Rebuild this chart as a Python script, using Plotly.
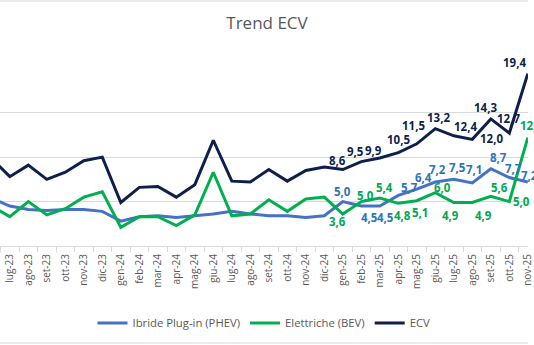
import plotly.graph_objects as go

months = ["giu-23", "lug-23", "ago-23", "set-23", "ott-23", "nov-23", "dic-23",
          "gen-24", "feb-24", "mar-24", "apr-24", "mag-24", "giu-24", "lug-24",
          "ago-24", "set-24", "ott-24", "nov-24", "dic-24",
          "gen-25", "feb-25", "mar-25", "apr-25", "mag-25", "giu-25", "lug-25",
          "ago-25", "set-25", "ott-25", "nov-25"]

phev = [5.4, 4.5, 4.1, 4.0, 4.1, 4.1, 3.9, 2.8, 3.3, 3.4, 3.2, 3.4, 3.6, 3.9,
        3.6, 3.4, 3.4, 3.2, 3.4,
        5.0, 4.5, 4.5, 5.7, 6.4, 7.2, 7.5, 7.1, 8.7, 7.7, 7.2]
bev = [4.5, 3.3, 5.0, 3.5, 4.2, 5.5, 6.1, 2.1, 3.3, 3.3, 2.3, 3.5, 8.3, 3.4,
       3.6, 5.2, 3.9, 5.3, 5.5,
       3.6, 5.0, 5.4, 4.8, 5.1, 6.0, 4.9, 4.9, 5.6, 5.0, 12.2]
ecv = [9.9, 7.8, 9.1, 7.5, 8.3, 9.6, 10.0, 4.9, 6.6, 6.7, 5.5, 6.9, 11.9, 7.3,
       7.2, 8.6, 7.3, 8.5, 8.9,
       8.6, 9.5, 9.9, 10.5, 11.5, 13.2, 12.4, 12.0, 14.3, 12.7, 19.4]

first_label = months.index("gen-25")

# label offsets in pixels (dx right, dy up) for the labelled months gen-25 .. nov-25
off_ecv = [(-5, 9), (-6, 10), (-6, 8), (0, 13), (-3, 18), (3, 11), (12, 9), (19, 1),
           (-5, 11), (-1, 15), (-13, 11)]
off_phev = [(0, 10), (8, -11), (6, -11), (11, 8), (7, 12), (2, 13), (4, 12), (2, 13),
            (8, 11), (4, 9), (2, 7)]
off_bev = [(-5, -7), (4, 6), (5, 11), (4, -12), (3, -12), (7, 5), (-3, -13), (11, -13),
           (9, 9), (12, 0), (4, 12)]

FONT = "Open Sans"

fig = go.Figure()
series = [
    ("Ibride Plug-in (PHEV)", phev, "#4472C4", "#2E75B6", off_phev),
    ("Elettriche (BEV)", bev, "#00B050", "#00A84F", off_bev),
    ("ECV", ecv, "#0E1F4E", "#0E1F4E", off_ecv),
]
annotations = []
for name, vals, lc, tc, offs in series:
    fig.add_trace(go.Scatter(
        x=months, y=vals, name=name, mode="lines",
        line=dict(color=lc, width=3),
    ))
    for k, i in enumerate(range(first_label, len(months))):
        dx, dy = offs[k]
        annotations.append(dict(
            x=months[i], y=vals[i], xref="x", yref="y",
            text=f"{vals[i]:.1f}".replace(".", ","), showarrow=False,
            xshift=dx, yshift=dy, xanchor="center", yanchor="middle",
            font=dict(family=FONT, size=11.5, color=tc, weight="bold"),
        ))

fig.update_layout(
    width=534, height=345,
    margin=dict(l=0, r=0, t=68, b=99),
    paper_bgcolor="white", plot_bgcolor="white",
    title=dict(text="Trend ECV", x=0.5, xanchor="center", y=1 - 23 / 345, yanchor="middle",
               font=dict(family=FONT, size=17, color="#595959")),
    showlegend=True,
    legend=dict(orientation="h", x=0.5, xanchor="center", yref="container",
                y=1 - 323 / 345, yanchor="middle",
                font=dict(family=FONT, size=11.3, color="#595959"), itemwidth=30),
    xaxis=dict(type="category", range=[0.47, 29.01], showgrid=False,
               showline=True, linecolor="#D9D9D9", linewidth=1,
               ticks="outside", tickson="boundaries", ticklen=5, tickcolor="#D9D9D9",
               ticklabelstandoff=3,
               tickangle=-90, tickfont=dict(family=FONT, size=10, color="#595959")),
    yaxis=dict(range=[0, 20.03], dtick=5, showgrid=True, gridcolor="#D9D9D9", gridwidth=1,
               zeroline=False, showticklabels=False, showline=False),
    annotations=annotations,
    shapes=[
        dict(type="line", xref="paper", yref="paper", x0=0, x1=1,
             y0=(246 - 1) / 178, y1=(246 - 1) / 178, line=dict(color="#D9D9D9", width=1)),
        dict(type="line", xref="paper", yref="paper", x0=0, x1=1,
             y0=(246 - 343) / 178, y1=(246 - 343) / 178, line=dict(color="#D9D9D9", width=1)),
    ],
)

fig.write_html("out.html")
